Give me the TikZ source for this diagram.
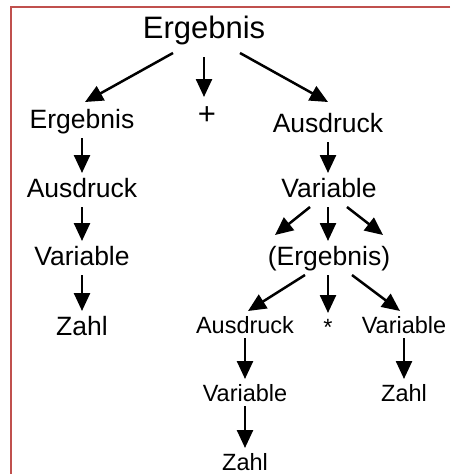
\documentclass[tikz,border=0pt]{standalone}
\usepackage{fontspec}
\setmainfont{Liberation Sans}
\usetikzlibrary{arrows.meta}
\definecolor{framered}{RGB}{192,80,77}
\begin{document}
\begin{tikzpicture}[x=1pt,y=-1pt,
  every node/.style={inner sep=0pt,outer sep=0pt,anchor=base},
  big/.style={font=\fontsize{31}{36}\selectfont,text height=26pt,text depth=15pt},
  med/.style={font=\fontsize{26.5}{31}\selectfont,text height=24pt,text depth=10pt},
  small/.style={font=\fontsize{23.5}{28}\selectfont,text height=22pt,text depth=5pt},
  arr/.style={line width=2.5pt,-{Triangle[length=18pt,width=16pt]}}]
\useasboundingbox (0,0) rectangle (450,474);
% frame
\draw[framered,line width=2.5pt] (450,7) -- (11,7) -- (11,474);

% parse tree nodes
\node[big]   (top)  at (204,38)  {Ergebnis};
\node[med]   (l1)   at (82,128)  {Ergebnis};
\node[med,font=\fontsize{31}{36}\selectfont,text height=27pt]
             (plus) at (207,124) {+};
\node[med]   (r1)   at (328,132) {Ausdruck};
\node[med]   (l2)   at (82,197)  {Ausdruck};
\node[med]   (l3)   at (82,265)  {Variable};
\node[med]   (l4)   at (82,335)  {Zahl};
\node[med]   (r2)   at (329,197) {Variable};
\node[med]   (r3)   at (329,265) {(Ergebnis)};
\node[small] (s1)   at (245,333) {Ausdruck};
\node[small] (star) at (328,335) {*};
\node[small] (s2)   at (404,333) {Variable};
\node[small] (s3)   at (245,401) {Variable};
\node[small] (s4)   at (404,401) {Zahl};
\node[small] (s5)   at (245,470) {Zahl};

% derivation arrows
\draw[arr] ([xshift=-31pt]top.south) -- ([xshift=3pt,yshift=2pt]l1.north);
\draw[arr] ([yshift=-4pt]top.south) -- ([xshift=-3pt]plus.north);
\draw[arr] ([xshift=36pt]top.south) -- ([yshift=6pt]r1.north);

\draw[arr] (l1.south) -- (l2.north);
\draw[arr] (l2.south) -- (l3.north);
\draw[arr] (l3.south) -- (l4.north);

\draw[arr] (r1.south) -- ([xshift=-1pt]r2.north);
\draw[arr] ([xshift=-19pt]r2.south) -- ([xshift=-54pt,yshift=6pt]r3.north);
\draw[arr] ([xshift=-1pt]r2.south) -- ([xshift=-1pt]r3.north);
\draw[arr] ([xshift=18pt]r2.south) -- ([xshift=54pt,yshift=6pt]r3.north);

\draw[arr] ([xshift=-24pt]r3.south) -- ([xshift=3pt]s1.north);
\draw[arr] ([xshift=-1pt]r3.south) -- (star.north);
\draw[arr] ([xshift=23pt]r3.south) -- ([xshift=-4pt]s2.north);

\draw[arr] (s1.south) -- (s3.north);
\draw[arr] (s3.south) -- (s5.north);
\draw[arr] (s2.south) -- (s4.north);
\end{tikzpicture}
\end{document}
